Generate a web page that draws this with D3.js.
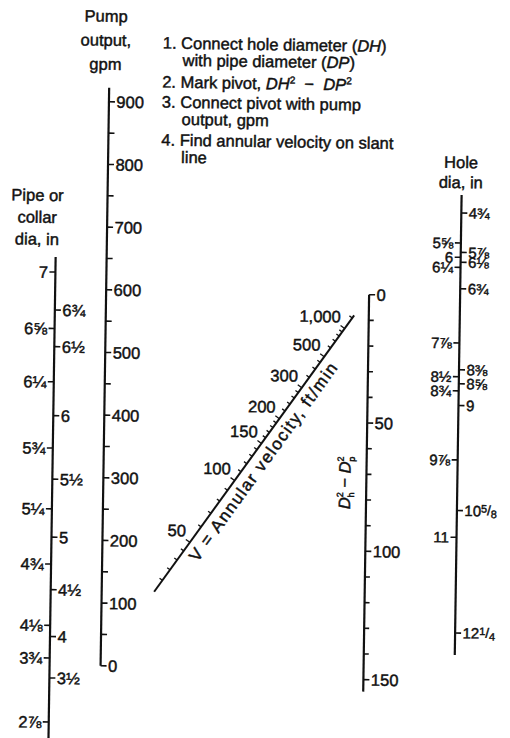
<!DOCTYPE html>
<html>
<head>
<meta charset="utf-8">
<script src="https://cdn.jsdelivr.net/npm/d3@7"></script>
<style>
  body { margin: 0; background: #fff; }
  text { font-family: "Liberation Sans", Arial, sans-serif; fill: #111; stroke: #111; stroke-width: 0.45px; }
</style>
</head>
<body>
<svg id="chart" width="510" height="738"></svg>
<script>
// ---- scale values ----
const pipeLeftVals   = [7, 6.625, 6.25, 5.75, 5.25, 4.75, 4.125, 3.75, 2.875];
const pipeLeftLabels = ["7", "6⅝", "6¼", "5¾", "5¼", "4¾", "4⅛", "3¾", "2⅞"];
const pipeRightVals   = [6.75, 6.5, 6, 5.5, 5, 4.5, 4, 3.5];
const pipeRightLabels = ["6¾", "6½", "6", "5½", "5", "4½", "4", "3½"];

const pumpMajor = [0, 100, 200, 300, 400, 500, 600, 700, 800, 900];
const pumpMinor = [50, 150, 250, 350, 450, 550, 650, 750, 850];

const annMajor = [0, 50, 100, 150];
const annMinor = [10, 20, 30, 40, 60, 70, 80, 90, 110, 120, 130, 140];

const holeLeftVals   = [5.625, 6, 6.25, 7.875, 8.5, 8.75, 9.875, 11];
const holeLeftLabels = ["5⅝", "6", "6¼", "7⅞", "8½", "8¾", "9⅞", "11"];
const holeRightVals   = [4.75, 5.875, 6.125, 6.75, 8.375, 8.625, 9, 10.625, 12.25];
const holeRightLabels = ["4¾", "5⅞", "6⅛", "6¾", "8⅜", "8⅝", "9", ["10", "5", "8"], ["12", "1", "4"]];

const velMajor  = [50, 100, 150, 200, 300, 500, 1000];
const velLabels = ["50", "100", "150", "200", "300", "500", "1,000"];
const velMinor  = [30, 35, 40, 45, 60, 70, 80, 90, 110, 120, 130, 140, 160, 170, 180, 190,
                   220, 240, 260, 280, 350, 400, 450, 600, 700, 800, 900, 1500];
const velRange  = [25, 1700];
const velConst  = 24.5;   // V = 24.5 Q / (Dh² − Dp²)

const steps = [
  [["1. Connect hole diameter (", ""], ["DH", "i"], [")", ""]],
  [["with pipe diameter (", ""], ["DP", "i"], [")", ""]],
  [["2. Mark pivot, ", ""], ["DH", "i"], ["2", "sup"], ["  −  ", ""], ["DP", "i"], ["2", "sup"]],
  [["3. Connect pivot with pump", ""]],
  [["output, gpm", ""]],
  [["4. Find annular velocity on slant", ""]],
  [["line", ""]]
];

// ---- layout ----
const svg = d3.select("#chart");
const g = svg.append("g").attr("transform", "rotate(0.85,255,369)");

const pipeX = 54, pumpX = 105, annX = 368, holeX = 459;
const pipeY = d3.scalePow().exponent(2).domain([2.875, 7]).range([725, 275]);
const pumpY = d3.scaleLinear().domain([0, 900]).range([668, 104]);
const annY  = d3.scaleLinear().domain([0, 150]).range([293, 678]);
const holeY = d3.scalePow().exponent(2).domain([4.75, 12.25]).range([210, 630]);

const FS = 16.5, TK = 6;

function vline(x, y0, y1, w) {
  g.append("line").attr("x1", x).attr("x2", x).attr("y1", y0).attr("y2", y1)
    .attr("stroke", "#111").attr("stroke-width", w || 2.2);
}
function ticks(x, scale, vals, side, len) {
  g.selectAll(null).data(vals).join("line")
    .attr("x1", x).attr("x2", x + side * len)
    .attr("y1", d => scale(d)).attr("y2", d => scale(d))
    .attr("stroke", "#111").attr("stroke-width", 1.6);
}
function labels(x, scale, vals, labs, side, fs) {
  fs = fs || FS;
  g.selectAll(null).data(vals).join("text")
    .attr("x", x + side * (TK + 1.5)).attr("y", d => scale(d)).attr("dy", "0.36em")
    .attr("text-anchor", side < 0 ? "end" : "start")
    .attr("font-size", fs)
    .each(function (d, i) {
      const lab = labs[i], t = d3.select(this);
      if (Array.isArray(lab)) {
        t.append("tspan").text(lab[0]);
        t.append("tspan").attr("font-size", fs * 0.72).attr("dy", "-0.35em").text(lab[1]);
        t.append("tspan").attr("font-size", fs * 0.9).attr("dy", "0.2em").text("/");
        t.append("tspan").attr("font-size", fs * 0.72).attr("dy", "0.25em").text(lab[2]);
      } else t.text(lab);
    });
}

// pipe or collar diameter
vline(pipeX, 260, 750);
ticks(pipeX, pipeY, pipeLeftVals, -1, TK);
ticks(pipeX, pipeY, pipeRightVals, 1, TK);
labels(pipeX, pipeY, pipeLeftVals, pipeLeftLabels, -1);
labels(pipeX, pipeY, pipeRightVals, pipeRightLabels, 1);

// pump output
vline(pumpX, 90, pumpY(0));
ticks(pumpX, pumpY, pumpMajor, 1, TK);
ticks(pumpX, pumpY, pumpMinor, 1, TK);
labels(pumpX, pumpY, pumpMajor, pumpMajor.map(String), 1);

// Dh² − Dp²
vline(annX, annY(0), 690);
ticks(annX, annY, annMajor, 1, TK);
ticks(annX, annY, annMinor, 1, 5);
labels(annX, annY, annMajor, annMajor.map(String), 1);

// hole diameter (closely spaced sizes get a slightly smaller face)
vline(holeX, 192, 652);
ticks(holeX, holeY, holeLeftVals, -1, TK);
ticks(holeX, holeY, holeRightVals, 1, TK);
labels(holeX, holeY, holeLeftVals, holeLeftLabels, -1, 15);
labels(holeX, holeY, holeRightVals, holeRightLabels, 1, 15);

// annular velocity: diagonal joining pump 0 and (Dh² − Dp²) 0
const A = [pumpX, pumpY(0)], B = [annX, annY(0)];
const a = pumpY(0) - pumpY(1), b = annY(1) - annY(0);
function velPos(v) {
  const k = a * v / (b * velConst);
  const s = k / (1 + k);
  return [A[0] + s * (B[0] - A[0]), A[1] + s * (B[1] - A[1])];
}
const dx = B[0] - A[0], dy = B[1] - A[1], L = Math.hypot(dx, dy);
const nx = dy / L, ny = -dx / L;          // points up-left of the diagonal
const ang = Math.atan2(dy, dx) * 180 / Math.PI;

const p0 = velPos(velRange[0]), p1 = velPos(velRange[1]);
g.append("line").attr("x1", p0[0]).attr("y1", p0[1]).attr("x2", p1[0]).attr("y2", p1[1])
  .attr("stroke", "#111").attr("stroke-width", 2);

g.selectAll(null).data(velMinor.concat(velMajor)).join("line")
  .attr("x1", d => velPos(d)[0]).attr("y1", d => velPos(d)[1])
  .attr("x2", d => velPos(d)[0] + nx * (velMajor.includes(d) ? 5 : 3.5))
  .attr("y2", d => velPos(d)[1] + ny * (velMajor.includes(d) ? 5 : 3.5))
  .attr("stroke", "#111").attr("stroke-width", 1.3);

g.selectAll(null).data(velMajor).join("text")
  .attr("x", d => velPos(d)[0] - 4).attr("y", d => velPos(d)[1] - 6)
  .attr("text-anchor", "end").attr("font-size", FS)
  .text((d, i) => velLabels[i]);

const pm = velPos(133);
g.append("text")
  .attr("transform", `translate(${pm[0] - nx * 18},${pm[1] - ny * 18}) rotate(${ang})`)
  .attr("text-anchor", "middle").attr("font-size", 17).attr("letter-spacing", 1.5)
  .text("V = Annular velocity, ft/min");

// Dh² − Dp² axis title
const dl = g.append("text")
  .attr("transform", `translate(352,${(annY(50) + annY(100)) / 2 - 4}) rotate(-90)`)
  .attr("text-anchor", "middle").attr("font-size", FS);
dl.append("tspan").attr("font-style", "italic").text("D");
dl.append("tspan").attr("font-size", 9).attr("dy", -7).text("2");
dl.append("tspan").attr("font-size", 9).attr("dx", -5).attr("dy", 11).text("h");
dl.append("tspan").attr("dy", -4).text("  −  ");
dl.append("tspan").attr("font-style", "italic").text("D");
dl.append("tspan").attr("font-size", 9).attr("dy", -7).text("2");
dl.append("tspan").attr("font-size", 9).attr("dx", -5).attr("dy", 11).text("p");

// axis titles
function title(x, y, lines, lh) {
  g.selectAll(null).data(lines).join("text")
    .attr("x", x).attr("y", (d, i) => y + i * lh)
    .attr("text-anchor", "middle").attr("font-size", FS).text(d => d);
}
title(101, 24, ["Pump", "output,", "gpm"], 24);
title(35, 204, ["Pipe or", "collar", "dia, in"], 22);
title(458, 165, ["Hole", "dia, in"], 20);

// instructions
const stepY = [50, 67, 89, 109, 126, 147, 164];
const stepX = [158, 178, 158, 158, 178, 158, 178];
steps.forEach((parts, i) => {
  const t = g.append("text").attr("x", stepX[i]).attr("y", stepY[i]).attr("font-size", FS)
    .attr("xml:space", "preserve");
  let raised = false;
  parts.forEach(([s, kind]) => {
    const sp = t.append("tspan").text(s);
    if (kind === "i") sp.attr("font-style", "italic");
    if (kind === "sup") { sp.attr("font-size", 10).attr("dy", -6); raised = true; }
    else if (raised) { sp.attr("dy", 6); raised = false; }
  });
});
</script>
</body>
</html>
